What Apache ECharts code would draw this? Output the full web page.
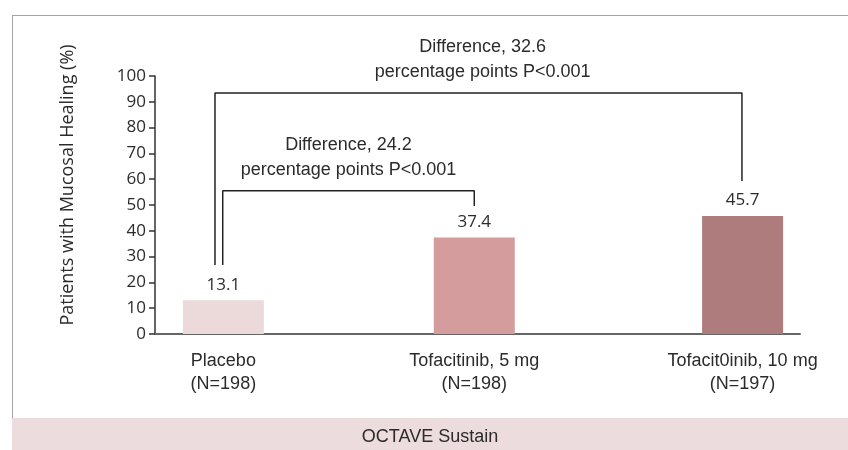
<!DOCTYPE html>
<html>
<head>
<meta charset="utf-8">
<script src="https://cdn.jsdelivr.net/npm/echarts@6/dist/echarts.min.js"></script>
<style>
  html, body { margin: 0; padding: 0; background: #fff; }
  #chart { width: 848px; height: 450px; }
</style>
</head>
<body>
<div id="chart"></div>
<script>
// categories and values
const groups = ['Placebo', 'Tofacitinib, 5 mg', 'Tofacit0inib, 10 mg']
const groupN = ['(N=198)', '(N=198)', '(N=197)']
const healing = [13.1, 37.4, 45.7]
// bar positions along a 0-100 horizontal scale (groups are not evenly spaced)
const groupPos = [10.6, 49.5, 91.1]
const barColors = ['#ecdadb', '#d49c9d', '#ae7c7c']
const yTicks = { min: 0, max: 100, step: 10 }

// comparison brackets, in data units
const smallBracket = [[10.5, 26.7], [10.5, 55.5], [49.5, 55.5], [49.5, 49.6]]
const bigBracket = [[9.3, 26.7], [9.3, 93.4], [91.0, 93.4], [91.0, 59.3]]
const notes = [
  { x: 30.0, y: 55.5, text: 'Difference, 24.2\npercentage points P<0.001' },
  { x: 50.8, y: 93.4, text: 'Difference, 32.6\npercentage points P<0.001' }
]

const narrowFont = '"Liberation Sans", Arial, sans-serif'
const wideFont = '"Open Sans", "DejaVu Sans", sans-serif'

const chart = echarts.init(document.getElementById('chart'))
const option = {
  animation: false,
  grid: { left: 155, right: 48, top: 76, bottom: 116 },
  graphic: [
    // outer frame (top and left edges)
    { type: 'line', shape: { x1: 12, y1: 15.5, x2: 848, y2: 15.5 }, style: { stroke: '#a3a3a3', lineWidth: 1 } },
    { type: 'line', shape: { x1: 12.5, y1: 15, x2: 12.5, y2: 418 }, style: { stroke: '#a3a3a3', lineWidth: 1 } },
    // bottom band
    { type: 'rect', shape: { x: 12, y: 418, width: 836, height: 32 }, style: { fill: '#eddcdd' } },
    {
      type: 'text', x: 430, y: 437,
      style: { text: 'OCTAVE Sustain', fill: '#2b2b2b', font: '18px ' + narrowFont, align: 'center', verticalAlign: 'middle' }
    }
  ],
  xAxis: {
    type: 'value',
    min: 0,
    max: 100,
    splitLine: { show: false },
    axisLine: { show: true, lineStyle: { color: '#666', width: 2 } },
    axisTick: { show: false },
    axisLabel: {
      customValues: groupPos,
      margin: 16,
      fontFamily: narrowFont,
      fontSize: 18,
      lineHeight: 23,
      color: '#2b2b2b',
      formatter: function (v) {
        const i = groupPos.indexOf(v)
        return i < 0 ? '' : groups[i] + '\n' + groupN[i]
      }
    }
  },
  yAxis: {
    type: 'value',
    min: yTicks.min,
    max: yTicks.max,
    interval: yTicks.step,
    name: 'Patients with Mucosal Healing (%)',
    nameLocation: 'middle',
    nameGap: 78,
    nameTextStyle: { fontFamily: wideFont, fontSize: 18, color: '#2b2b2b', padding: [0, 0, 0, 40] },
    splitLine: { show: false },
    axisLine: { show: true, lineStyle: { color: '#333', width: 1.5 } },
    axisTick: { show: true, length: 6, lineStyle: { color: '#333', width: 1.5 } },
    axisLabel: { fontFamily: wideFont, fontSize: 17, color: '#2b2b2b', margin: 9 }
  },
  series: [
    {
      type: 'bar',
      barWidth: 81,
      data: healing.map((v, i) => ({ value: [groupPos[i], v], itemStyle: { color: barColors[i] } })),
      label: {
        show: true,
        position: 'top',
        distance: 7,
        fontFamily: wideFont,
        fontSize: 17,
        color: '#2b2b2b',
        formatter: p => p.value[1].toFixed(1)
      }
    },
    {
      type: 'line',
      data: smallBracket,
      symbol: 'none',
      lineStyle: { color: '#222', width: 1.5, opacity: 1 },
      z: 3
    },
    {
      type: 'line',
      data: bigBracket,
      symbol: 'none',
      lineStyle: { color: '#222', width: 1.5, opacity: 1 },
      z: 3
    },
    {
      type: 'scatter',
      symbolSize: 0,
      itemStyle: { opacity: 1 },
      data: notes.map(n => [n.x, n.y]),
      label: {
        show: true,
        position: 'top',
        distance: 8,
        fontFamily: narrowFont,
        fontSize: 18,
        lineHeight: 25,
        color: '#2b2b2b',
        opacity: 1,
        formatter: p => notes[p.dataIndex].text
      }
    }
  ]
}
chart.setOption(option)
</script>
</body>
</html>
